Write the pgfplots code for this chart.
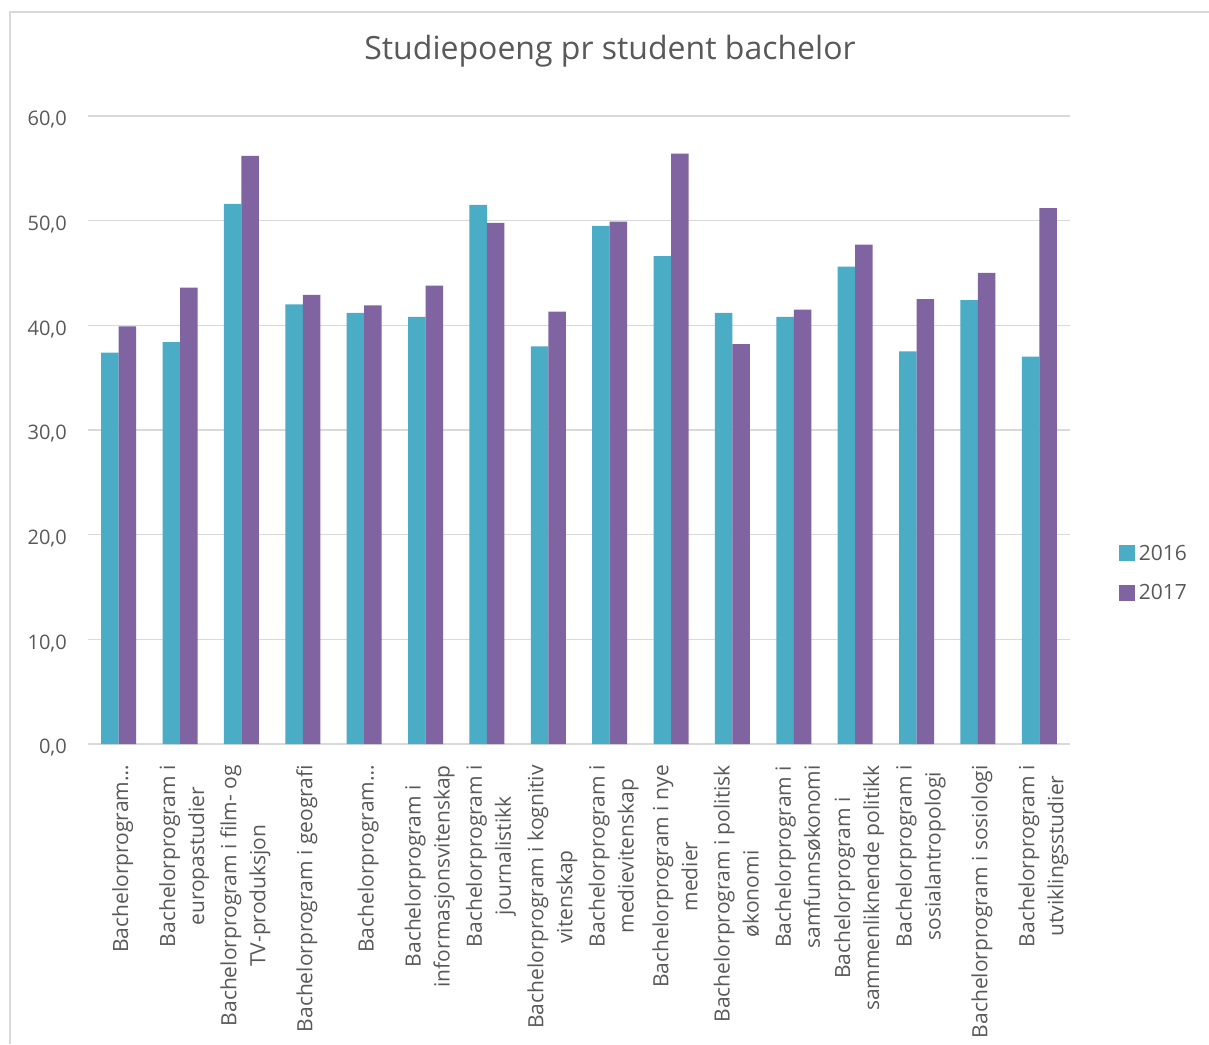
\documentclass[border=0pt]{standalone}
\usepackage{fontspec}
\setmainfont{Open Sans}
\usepackage{pgfplots}
\pgfplotsset{compat=1.18}

\definecolor{c2016}{HTML}{4BACC6}
\definecolor{c2017}{HTML}{8064A2}
\definecolor{txt}{HTML}{595959}
\definecolor{gridc}{HTML}{D9D9D9}

\begin{document}
\begin{tikzpicture}
\useasboundingbox[fill=white] (0,0) rectangle (1209pt,1044pt);
% chart frame (only top and left edges are visible in the crop)
\draw[gridc, line width=2pt] (10pt,0pt) -- (10pt,1032pt) -- (1209pt,1032pt);
\node[txt, font=\fontsize{32}{38}\selectfont] at (610pt,993pt) {Studiepoeng pr student bachelor};
\begin{axis}[
    at={(88pt,300pt)}, anchor=south west,
    width=982pt, height=628pt, scale only axis,
    ybar=0pt, bar width=17.5pt,
    xmin=-0.5, xmax=15.5, ymin=0, ymax=60,
    xtick={0,...,15}, ytick={0,10,...,60},
    xticklabels={
      {Bachelorprogram…},
      {Bachelorprogram i\\europastudier},
      {Bachelorprogram i film- og\\TV-produksjon},
      {Bachelorprogram i geografi},
      {Bachelorprogram…},
      {Bachelorprogram i\\informasjonsvitenskap},
      {Bachelorprogram i\\journalistikk},
      {Bachelorprogram i kognitiv\\vitenskap},
      {Bachelorprogram i\\medievitenskap},
      {Bachelorprogram i nye\\medier},
      {Bachelorprogram i politisk\\økonomi},
      {Bachelorprogram i\\samfunnsøkonomi},
      {Bachelorprogram i\\sammenliknende politikk},
      {Bachelorprogram i\\sosialantropologi},
      {Bachelorprogram i sosiologi},
      {Bachelorprogram i\\utviklingsstudier}},
    xticklabel style={rotate=90, anchor=east, align=center, inner sep=0pt,
      yshift=-4pt, font=\fontsize{21}{29}\selectfont, text=txt},
    xticklabel shift=21pt,
    yticklabel style={inner sep=0pt, xshift=-21pt, yshift=-4pt,
      font=\fontsize{20}{24}\selectfont, text=txt},
    /pgf/number format/.cd, fixed, fixed zerofill, precision=1, use comma, assume math mode=true,
    /pgfplots/.cd,
    major tick length=0pt,
    axis x line*=bottom, axis y line*=left,
    x axis line style={draw=gridc, line width=1.5pt},
    y axis line style={draw=none},
    ymajorgrids, grid style={draw=gridc, line width=1.5pt},
    legend style={draw=none, fill=none, at={(1.050,0.272)}, anchor=west,
      font=\fontsize{21}{25}\selectfont, text=txt, row sep=16pt, inner sep=0pt,
      nodes={inner sep=3.5pt}},
    legend cell align=left,
    legend image code/.code={\fill[#1] (0pt,-8pt) rectangle (16pt,8pt);},
]
\addplot[fill=c2016, draw=none] coordinates {
  (0,37.4) (1,38.4) (2,51.6) (3,42.0) (4,41.2) (5,40.8) (6,51.5) (7,38.0)
  (8,49.5) (9,46.6) (10,41.2) (11,40.8) (12,45.6) (13,37.5) (14,42.4) (15,37.0)};
\addplot[fill=c2017, draw=none] coordinates {
  (0,39.9) (1,43.6) (2,56.2) (3,42.9) (4,41.9) (5,43.8) (6,49.8) (7,41.3)
  (8,49.9) (9,56.4) (10,38.2) (11,41.5) (12,47.7) (13,42.5) (14,45.0) (15,51.2)};
\legend{2016,2017}
\end{axis}
\end{tikzpicture}
\end{document}
